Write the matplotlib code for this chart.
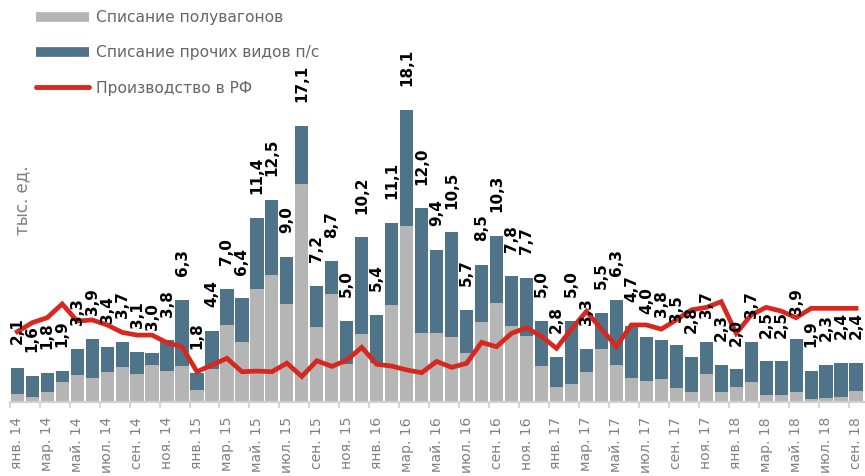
import matplotlib
matplotlib.use("Agg")
import matplotlib.pyplot as plt
from matplotlib.lines import Line2D
import numpy as np

months = ['янв.', 'фев.', 'мар.', 'апр.', 'май.', 'июн.', 'июл.', 'авг.', 'сен.', 'окт.', 'ноя.', 'дек.']
periods = [f"{m} {y}" for y in range(14, 19) for m in months][:57]

totals = [2.1, 1.6, 1.8, 1.9, 3.3, 3.9, 3.4, 3.7, 3.1, 3.0, 3.8, 6.3,
          1.8, 4.4, 7.0, 6.4, 11.4, 12.5, 9.0, 17.1, 7.2, 8.7, 5.0, 10.2,
          5.4, 11.1, 18.1, 12.0, 9.4, 10.5, 5.7, 8.5, 10.3, 7.8, 7.7, 5.0,
          2.8, 5.0, 3.3, 5.5, 6.3, 4.7, 4.0, 3.8, 3.5, 2.8, 3.7, 2.3,
          2.0, 3.7, 2.5, 2.5, 3.9, 1.9, 2.3, 2.4, 2.4]

gondola = [0.48, 0.29, 0.58, 1.22, 1.65, 1.49, 1.86, 2.13, 1.70, 2.27, 1.92, 2.19,
           0.72, 2.03, 4.75, 3.70, 7.0, 7.83, 6.03, 13.5, 4.65, 6.7, 2.36, 4.2,
           2.38, 6.0, 10.9, 4.24, 4.24, 3.99, 3.02, 4.92, 6.12, 4.69, 4.09, 2.21,
           0.93, 1.07, 1.84, 3.3, 2.27, 1.47, 1.28, 1.41, 0.87, 0.62, 1.72, 0.62,
           0.89, 1.22, 0.43, 0.39, 0.58, 0.17, 0.21, 0.29, 0.66]

production = [4.34, 4.9, 5.21, 6.06, 5.0, 5.07, 4.76, 4.3, 4.13, 4.13, 3.66, 3.41,
              1.86, 2.28, 2.69, 1.86, 1.9, 1.86, 2.39, 1.57, 2.54, 2.19, 2.58, 3.37,
              2.32, 2.21, 1.97, 1.8, 2.5, 2.13, 2.38, 3.68, 3.41, 4.24, 4.59, 4.05,
              3.31, 4.5, 5.6, 4.5, 3.43, 4.76, 4.76, 4.5, 5.07, 5.69, 5.85, 6.2,
              4.24, 5.38, 5.85, 5.62, 5.21, 5.79, 5.79, 5.79, 5.79]

label_gondola = 'Списание полувагонов'
label_other = 'Списание прочих видов п/с'
label_prod = 'Производство в РФ'

GRAY = '#b5b5b5'
BLUE = '#4f7489'
RED = '#d6281e'
TXT = '#666666'

x = np.arange(len(totals))
gond = np.array(gondola)
other = np.array(totals) - gond

fig = plt.figure(figsize=(8.65, 4.76), dpi=100)
ax = fig.add_axes([0.0113, 0.156, 0.9870, 0.844])

ax.bar(x, gond, width=0.88, color=GRAY, zorder=2)
ax.bar(x, other, bottom=gond, width=0.88, color=BLUE, zorder=2)
ax.plot(x, production, color=RED, lw=3.4, zorder=3, solid_joinstyle='miter')

for xi, t in zip(x, totals):
    ax.annotate(f"{t:.1f}".replace('.', ','), (xi, t), xytext=(0, 17),
                textcoords='offset points', rotation=90, ha='center', va='bottom',
                fontsize=11, fontweight='bold', color='black', zorder=5)

ax.set_xlim(-0.5, len(totals) - 0.5)
ax.set_ylim(0, 24.9)

for s in ['top', 'right', 'left']:
    ax.spines[s].set_visible(False)
ax.spines['bottom'].set_color('#d0d0d0')
ax.spines['bottom'].set_linewidth(1.5)
ax.set_yticks([])

ax.set_xticks(np.arange(-0.5, len(totals), 2))
ax.set_xticklabels([])
ax.tick_params(axis='x', which='major', length=4, width=1.2, color='#d0d0d0')
ax.set_xticks(x[::2], minor=True)
ax.set_xticklabels(periods[::2], minor=True, rotation=90, fontsize=10, color='#808080')
ax.tick_params(axis='x', which='minor', length=0, pad=11)
for lab in ax.get_xticklabels(minor=True):
    lab.set_va('top')

fig.text(0.026, 0.58, 'тыс. ед.', rotation=90, ha='center', va='center',
         fontsize=12, color='#808080')

handles = [Line2D([], [], color=GRAY, lw=7, solid_capstyle='butt'),
           Line2D([], [], color=BLUE, lw=7, solid_capstyle='butt'),
           Line2D([], [], color=RED, lw=3.5, solid_capstyle='round')]
leg = ax.legend(handles, [label_gondola, label_other, label_prod], loc='upper left',
                bbox_to_anchor=(0.024, 0.99), frameon=False, fontsize=11.2,
                handlelength=3.4, handletextpad=0.4, labelspacing=1.3, borderaxespad=0)
for t in leg.get_texts():
    t.set_color(TXT)

fig.savefig('out.png', dpi=100)
